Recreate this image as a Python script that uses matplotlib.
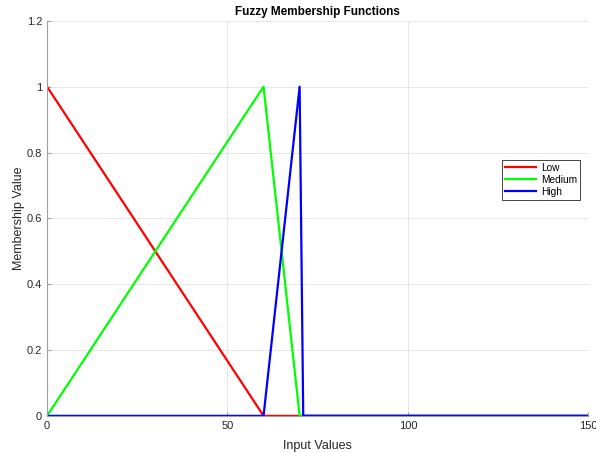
import matplotlib.pyplot as plt

plt.rcParams['font.family'] = ['Liberation Sans', 'DejaVu Sans']

# membership functions sampled on the input range
low_x = [0, 60, 150]
low_y = [1, 0, 0]
med_x = [0, 60, 70, 150]
med_y = [0, 1, 0, 0]
high_x = [0, 60, 70, 71, 150]
high_y = [0, 0, 1, 0, 0]

fig = plt.figure(figsize=(5.96, 4.53), dpi=100)
ax = fig.add_axes([0.079, 0.082, 0.908, 0.872])

ax.plot(low_x, low_y, color='#ff0000', lw=1.6, label='Low')
ax.plot(med_x, med_y, color='#00ff00', lw=1.6, label='Medium')
ax.plot(high_x, high_y, color='#0000ff', lw=1.6, label='High')

ax.set_xlim(0, 150)
ax.set_ylim(0, 1.2)
ax.set_xticks([0, 50, 100, 150])
ax.set_yticks([0, 0.2, 0.4, 0.6, 0.8, 1, 1.2])
ax.set_yticklabels(['0', '0.2', '0.4', '0.6', '0.8', '1', '1.2'])
ax.grid(True, color='#e6e6e6', lw=0.7)
ax.set_axisbelow(True)
for s in ['top', 'right']:
    ax.spines[s].set_visible(False)
for s in ['left', 'bottom']:
    ax.spines[s].set_color('#a0a0a0')
    ax.spines[s].set_linewidth(0.8)
ax.tick_params(direction='in', length=3, colors='#a0a0a0', labelcolor='#262626', labelsize=8)

ax.set_title('Fuzzy Membership Functions', fontsize=8.5, fontweight='bold', pad=4)
ax.set_xlabel('Input Values', fontsize=9, color='#262626', labelpad=7)
ax.set_ylabel('Membership Value', fontsize=9, color='#262626', labelpad=1)

leg = ax.legend(loc='upper right', bbox_to_anchor=(0.994, 0.661), fontsize=7.3,
                fancybox=False, framealpha=1, edgecolor='#262626',
                handlelength=3.0, borderpad=0.3, labelspacing=0.2, handletextpad=0.5)
leg.get_frame().set_linewidth(0.6)

fig.savefig('out.png', dpi=100)
